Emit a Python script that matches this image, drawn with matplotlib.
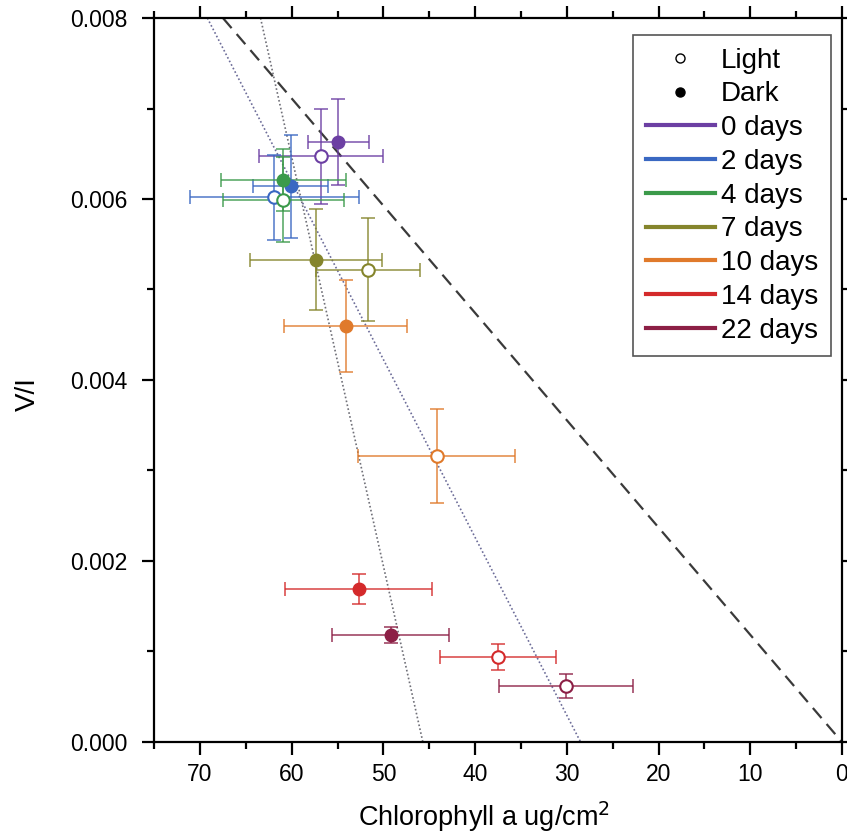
import numpy as np
import matplotlib
matplotlib.use('Agg')
import matplotlib.pyplot as plt
from matplotlib.lines import Line2D
from matplotlib.ticker import MultipleLocator, FormatStrFormatter

plt.rcParams['font.family'] = ['Liberation Sans', 'DejaVu Sans']

# groups (days of treatment) and their colours
days = ['0 days', '2 days', '4 days', '7 days', '10 days', '14 days', '22 days']
colors = ['#6c3fa3', '#3a68c2', '#3b9a4a', '#85852c', '#e07a2b', '#d42a2b', '#8c1f45']

# light treated samples (open circles)
light_x = [56.8, 61.9, 60.9, 51.7, 44.2, 37.5, 30.1]
light_xerr = [6.8, 9.2, 6.6, 5.7, 8.6, 6.3, 7.3]
light_y = [0.00647, 0.00602, 0.00599, 0.00522, 0.00316, 0.00094, 0.00062]
light_yerr = [0.00053, 0.00047, 0.00047, 0.00057, 0.00052, 0.00014, 0.00013]

# dark treated samples (filled circles)
dark_x = [54.9, 60.1, 60.9, 57.4, 54.1, 52.7, 49.2]
dark_xerr = [3.3, 4.1, 6.8, 7.2, 6.7, 8.0, 6.4]
dark_y = [0.00663, 0.00614, 0.00621, 0.00533, 0.00460, 0.00169, 0.00118]
dark_yerr = [0.00048, 0.00057, 0.00034, 0.00056, 0.00051, 0.00017, 0.00009]

# reference lines, (chl, V/I) end points
dashed_x = [67.5, 0.0]
dashed_y = [0.008, 0.0]
dot1_x = [63.4, 45.7]
dot1_y = [0.008, 0.0]
dot2_x = [69.2, 28.5]
dot2_y = [0.008, 0.0]

fig = plt.figure(figsize=(8.47, 8.38), dpi=100)
ax = fig.add_axes([0.182, 0.1146, 0.994 - 0.182, 0.9785 - 0.1146])

ax.plot(dashed_x, dashed_y, color='#3a3a3a', lw=1.6, ls=(0, (6, 3.5)), zorder=1)
ax.plot(dot1_x, dot1_y, color='#707078', lw=1.2, ls=(0, (1, 1.4)), zorder=1)
ax.plot(dot2_x, dot2_y, color='#6c6c98', lw=1.2, ls=(0, (1, 1.4)), zorder=1)

for i in range(len(days)):
    c = colors[i]
    ax.errorbar(light_x[i], light_y[i], xerr=light_xerr[i], yerr=light_yerr[i],
                fmt='none', ecolor=c, alpha=0.7, elinewidth=1.4, capsize=5,
                capthick=1.4, zorder=2)
    ax.errorbar(dark_x[i], dark_y[i], xerr=dark_xerr[i], yerr=dark_yerr[i],
                fmt='none', ecolor=c, alpha=0.7, elinewidth=1.4, capsize=5,
                capthick=1.4, zorder=2)
    ax.plot(light_x[i], light_y[i], 'o', ms=9, mfc='white', mec=c, mew=1.5, zorder=3)
    ax.plot(dark_x[i], dark_y[i], 'o', ms=9, mfc=c, mec=c, mew=1, zorder=4)

ax.set_xlim(75, 0)
ax.set_ylim(0, 0.008)
ax.xaxis.set_major_locator(MultipleLocator(10))
ax.xaxis.set_minor_locator(MultipleLocator(5))
ax.yaxis.set_major_locator(MultipleLocator(0.002))
ax.yaxis.set_minor_locator(MultipleLocator(0.001))
ax.yaxis.set_major_formatter(FormatStrFormatter('%.3f'))

for s in ax.spines.values():
    s.set_linewidth(1.6)
ax.tick_params(which='both', direction='out', top=True, right=True,
               width=1.6, labelsize=16.5)
ax.tick_params(which='major', length=9)
ax.tick_params(which='minor', length=5)
ax.tick_params(axis='x', pad=6)
ax.tick_params(axis='y', pad=10)

ax.set_xlabel('Chlorophyll a ug/cm$^2$', fontsize=19.5)
ax.set_ylabel('V/I', fontsize=20)
ax.xaxis.set_label_coords(0.48, -0.08)
ax.yaxis.set_label_coords(-0.165, 0.48)

# legend: marker type for treatment, colour for days
handles = [Line2D([], [], ls='none', marker='o', ms=6.5, mfc='white', mec='black', mew=1),
           Line2D([], [], ls='none', marker='o', ms=6.5, mfc='black', mec='black')]
for c in colors:
    handles.append(Line2D([], [], color=c, lw=3))
labels = ['Light', 'Dark'] + days
leg = ax.legend(handles, labels, loc='upper right', bbox_to_anchor=(0.984, 0.9765),
                borderaxespad=0, fontsize=20, handlelength=2.5, handletextpad=0.22,
                labelspacing=0.28, borderpad=0.45, fancybox=False, framealpha=1,
                edgecolor='#555555')
leg.get_frame().set_linewidth(1.2)

fig.savefig('out.png', dpi=100)
